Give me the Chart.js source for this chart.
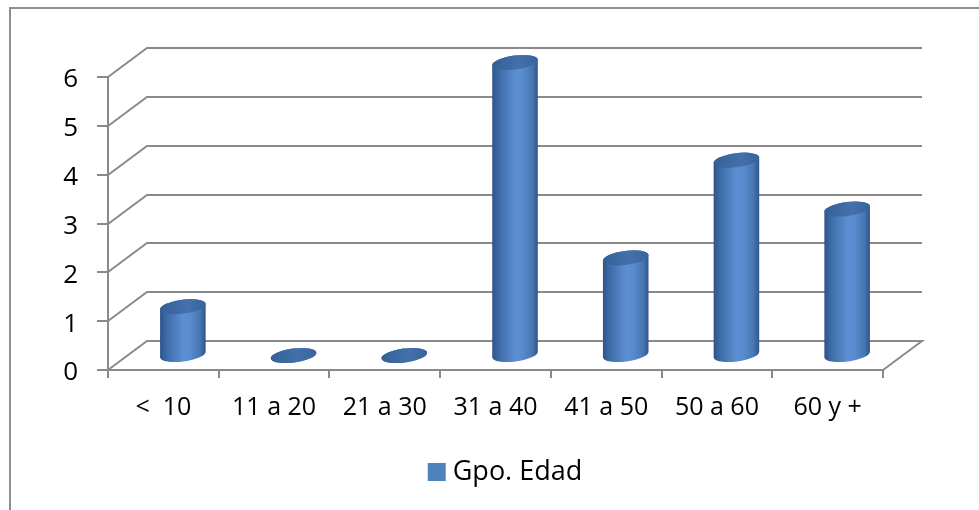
<!DOCTYPE html>
<html>
<head>
<meta charset="utf-8">
<script src="https://cdn.jsdelivr.net/npm/chart.js@4.4.0/dist/chart.umd.min.js"></script>
<style>
  html, body { margin: 0; padding: 0; background: #fff; }
  #wrap { width: 979px; height: 510px; position: relative; }
</style>
</head>
<body>
<div id="wrap"><canvas id="c" width="979" height="510"></canvas></div>
<script>
// Age groups and how many people fall in each
const categories = ['<  10', '11 a 20', '21 a 30', '31 a 40', '41 a 50', '50 a 60', '60 y +'];
const counts = [1, 0, 0, 6, 2, 4, 3];
const seriesName = 'Gpo. Edad';
const yTicks = [0, 1, 2, 3, 4, 5, 6];

const FONT = "'Open Sans', 'Liberation Sans', sans-serif";
const GRID = '#8a8a8a';
const SERIES_COLOR = '#4f81bd';
const DEPTH_X = 39;   // oblique depth of the 3D box
const DEPTH_Y = 29;
const TILT = -0.13;   // slant of the cylinder ends

function drawCylinder(ctx, cx, yTop, yBase, rx, ry) {
  const c = Math.cos(TILT), s = Math.sin(TILT);
  // body
  const body = ctx.createLinearGradient(cx - rx, 0, cx + rx, 0);
  body.addColorStop(0, '#2d5387');
  body.addColorStop(0.15, '#3e6ca7');
  body.addColorStop(0.5, '#5b8ed2');
  body.addColorStop(0.65, '#5a8cd0');
  body.addColorStop(0.88, '#4675b1');
  body.addColorStop(1, '#2e5487');
  ctx.beginPath();
  ctx.ellipse(cx, yBase, rx, ry, TILT, Math.PI, 0, true);
  ctx.lineTo(cx + rx * c, yTop + rx * s);
  ctx.ellipse(cx, yTop, rx, ry, TILT, 0, -Math.PI, true);
  ctx.closePath();
  ctx.fillStyle = body;
  ctx.fill();
  // top cap
  const cap = ctx.createLinearGradient(cx - rx, 0, cx + rx, 0);
  cap.addColorStop(0, '#355f96');
  cap.addColorStop(0.6, '#4471ab');
  cap.addColorStop(1, '#38639b');
  ctx.beginPath();
  ctx.ellipse(cx, yTop, rx, ry, TILT, 0, Math.PI * 2);
  ctx.fillStyle = cap;
  ctx.fill();
}

const depth3d = {
  id: 'depth3d',
  beforeDraw(chart) {
    const ctx = chart.ctx;
    ctx.save();
    ctx.strokeStyle = '#8e8e8e';
    ctx.lineWidth = 2;
    ctx.strokeRect(10, 8, 1200, 800);
    ctx.restore();
  },
  beforeDatasetsDraw(chart) {
    const { ctx, chartArea: { left, right }, scales: { y } } = chart;
    ctx.save();
    ctx.strokeStyle = GRID;
    ctx.lineWidth = 2;
    ctx.lineJoin = 'miter';
    yTicks.forEach((v, i) => {
      const py = Math.round(y.getPixelForValue(v));
      ctx.beginPath();
      ctx.moveTo(left, py);
      ctx.lineTo(left + DEPTH_X, py - DEPTH_Y);
      ctx.lineTo(right + DEPTH_X, py - DEPTH_Y);
      if (i === 0) ctx.lineTo(right, py);
      ctx.stroke();
    });
    ctx.restore();
  },
  afterDatasetsDraw(chart) {
    const ctx = chart.ctx;
    const meta = chart.getDatasetMeta(0);
    ctx.save();
    meta.data.forEach(bar => {
      const rx = bar.width / 2;
      const cx = bar.x + DEPTH_X / 2;
      drawCylinder(ctx, cx, bar.y - DEPTH_Y / 2, bar.base - DEPTH_Y / 2, rx, 7);
    });
    ctx.restore();
  },
  afterDraw(chart) {
    const ctx = chart.ctx;
    const label = chart.data.datasets[0].label;
    ctx.save();
    ctx.font = `27px ${FONT}`;
    const tw = ctx.measureText(label).width;
    const box = 18, gap = 7;
    const total = box + gap + tw;
    const x0 = 505 - total / 2;
    const cy = 472;
    ctx.fillStyle = SERIES_COLOR;
    ctx.fillRect(x0, cy - box / 2, box, box);
    ctx.fillStyle = '#000';
    ctx.textBaseline = 'middle';
    ctx.fillText(label, x0 + box + gap, cy);
    ctx.restore();
  }
};

new Chart(document.getElementById('c'), {
  type: 'bar',
  data: {
    labels: categories,
    datasets: [{
      label: seriesName,
      data: counts,
      backgroundColor: 'rgba(0,0,0,0)',
      borderWidth: 0,
      categoryPercentage: 1,
      barPercentage: 0.415
    }]
  },
  options: {
    responsive: false,
    animation: false,
    devicePixelRatio: 1,
    layout: { padding: { left: 0, top: 77, right: 96, bottom: 0 } },
    plugins: {
      legend: { display: false },
      tooltip: { enabled: false }
    },
    scales: {
      x: {
        type: 'category',
        offset: true,
        grid: { offset: true, drawOnChartArea: false, tickLength: 8, color: GRID, lineWidth: 2 },
        border: { display: true, color: GRID, width: 2 },
        ticks: { font: { family: FONT, size: 25 }, color: '#000', padding: 15, maxRotation: 0, autoSkip: false },
        afterFit: s => { s.height = 140; }
      },
      y: {
        min: 0,
        max: 6,
        ticks: { stepSize: 1, font: { family: FONT, size: 26 }, color: '#000', padding: 19, labelOffset: 3 },
        grid: { drawOnChartArea: false, tickLength: 11, color: GRID, lineWidth: 2 },
        border: { display: true, color: GRID, width: 2 },
        afterFit: s => { s.width = 108; }
      }
    }
  },
  plugins: [depth3d]
});
</script>
</body>
</html>
